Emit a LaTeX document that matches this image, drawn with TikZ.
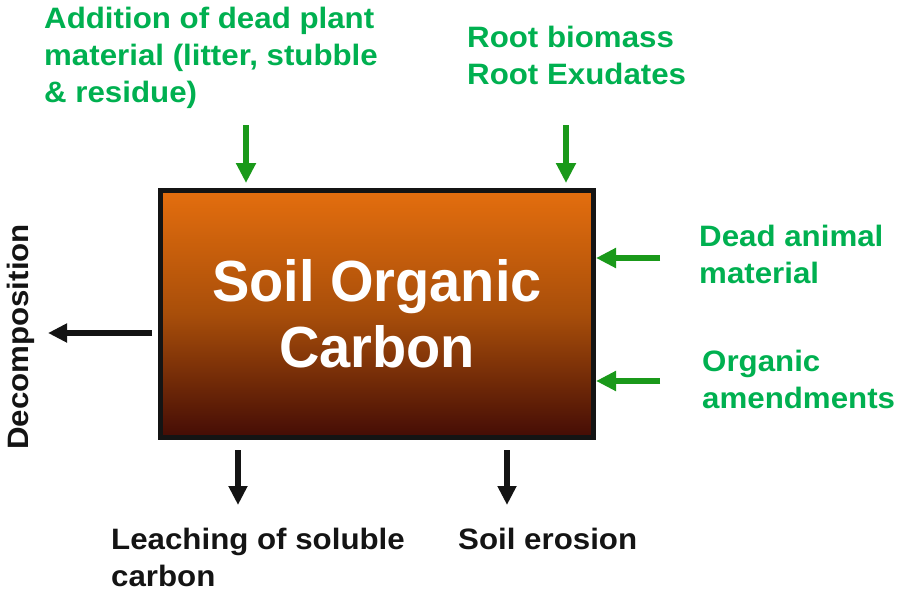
\documentclass[tikz,border=0pt]{standalone}
\usepackage{fontspec}
\setmainfont{Liberation Sans}
\newfontfamily\lblfont[FakeStretch=1.06]{Liberation Sans}
\newfontfamily\socfont[FakeStretch=0.965]{Liberation Sans}
\usetikzlibrary{arrows.meta}
\definecolor{tgreen}{RGB}{0,176,80}
\definecolor{agreen}{RGB}{26,153,26}
\definecolor{kk}{RGB}{20,20,20}
\definecolor{soctop}{RGB}{228,110,14}
\definecolor{socmid}{RGB}{168,78,10}
\definecolor{socbot}{RGB}{68,12,5}
\begin{document}
\begin{tikzpicture}[x=1pt,y=-1pt,
  lbl/.style={inner sep=0pt, anchor=north west, align=left, font=\lblfont\fontsize{29.5}{37}\selectfont\bfseries},
  glbl/.style={lbl, text=tgreen},
  blbl/.style={lbl, text=kk},
  garrow/.style={agreen, line width=6pt, -{Triangle[width=19pt,length=20pt]}},
  karrow/.style={kk, line width=5.5pt, -{Triangle[width=18pt,length=19pt]}}]
\useasboundingbox (0,0) rectangle (900,600);

\node[draw=kk, line width=5pt, minimum width=433pt, minimum height=247pt,
  top color=soctop, bottom color=socbot, middle color=socmid,
  text=white, font=\socfont\fontsize{58}{66}\selectfont\bfseries, align=center] (soc) at (377,314) {Soil Organic\\Carbon};

\node[glbl] (add) at (44,7) {Addition of dead plant\\material (litter, stubble\\\& residue)};
\node[glbl] (root) at (467,26) {Root biomass\\Root Exudates};
\node[glbl] (dead) at (699,225) {Dead animal\\material};
\node[glbl] (org) at (702,350) {Organic\\amendments};
\node[blbl] (leach) at (111,528) {Leaching of soluble\\carbon};
\node[blbl] (ero) at (458,528) {Soil erosion};
\node[blbl, rotate=90, anchor=center] (dec) at (21,337) {Decomposition};

\coordinate (s1) at (246,125);
\coordinate (s2) at (566,125);
\coordinate (s3) at (660,258);
\coordinate (s4) at (660,381);
\coordinate (e1) at (48,333);
\coordinate (e2) at (238,505);
\coordinate (e3) at (507,505);

\draw[garrow, shorten >=5pt] (s1) -- (s1 |- soc.north);
\draw[garrow, shorten >=5pt] (s2) -- (s2 |- soc.north);
\draw[garrow] (s3) -- (s3 -| soc.east);
\draw[garrow] (s4) -- (s4 -| soc.east);
\draw[karrow, shorten <=6pt] (e1 -| soc.west) -- (e1);
\draw[karrow, shorten <=10pt] (e2 |- soc.south) -- (e2);
\draw[karrow, shorten <=10pt] (e3 |- soc.south) -- (e3);
\end{tikzpicture}
\end{document}
